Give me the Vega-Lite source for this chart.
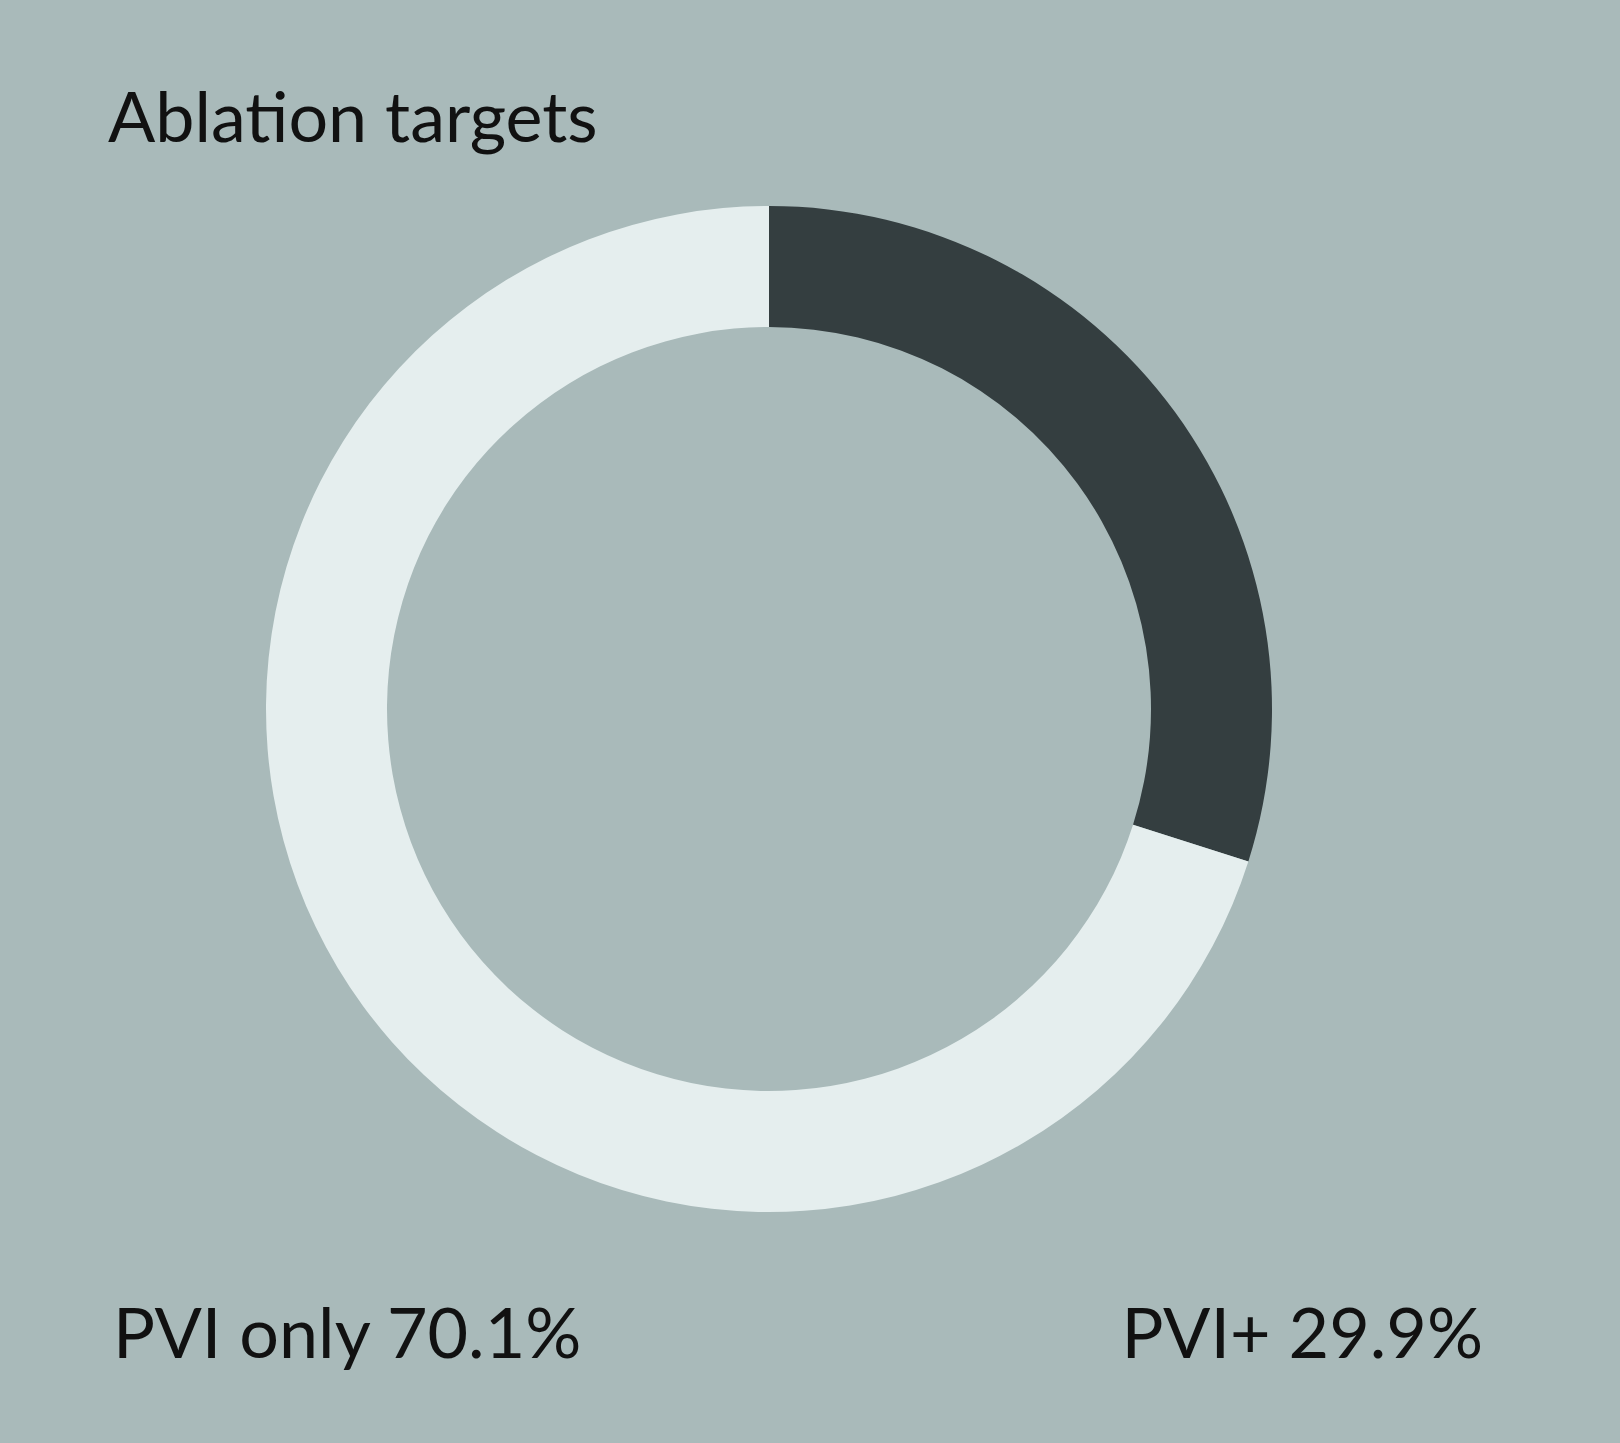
{
  "$schema": "https://vega.github.io/schema/vega-lite/v6.json",
  "background": "#a9baba",
  "autosize": {"type": "none"},
  "padding": {"left": 0, "top": 60, "right": 82, "bottom": 85},
  "width": 1538,
  "height": 1298,
  "title": {
    "text": "Ablation targets",
    "anchor": "start",
    "frame": "group",
    "orient": "top",
    "baseline": "alphabetic",
    "offset": 0,
    "dx": 108,
    "dy": 152,
    "font": "Lato",
    "fontSize": 70,
    "fontWeight": "normal",
    "color": "#111111"
  },
  "data": {
    "values": [
      {"segment": "PVI+", "share": 29.9, "label": "PVI+ 29.9%"},
      {"segment": "PVI only", "share": 70.1, "label": "PVI only 70.1%"}
    ]
  },
  "layer": [
    {
      "mark": {"type": "arc", "outerRadius": 503, "innerRadius": 382},
      "encoding": {
        "theta": {"field": "share", "type": "quantitative", "stack": true},
        "order": {"field": "share", "sort": "ascending"},
        "color": {
          "field": "segment",
          "type": "nominal",
          "scale": {"domain": ["PVI+", "PVI only"], "range": ["#343e40", "#e5eeee"]},
          "legend": null
        }
      }
    },
    {
      "transform": [{"filter": "datum.segment === 'PVI only'"}],
      "mark": {"type": "text", "align": "left", "baseline": "alphabetic", "font": "Lato", "fontSize": 70, "color": "#111111"},
      "encoding": {
        "x": {"field": "segment", "type": "nominal", "scale": {"type": "point", "domain": ["PVI only", "PVI+"], "padding": 0.0613, "align": 0.6726}, "axis": null},
        "y": {"value": "height"},
        "text": {"field": "label"}
      }
    },
    {
      "transform": [{"filter": "datum.segment === 'PVI+'"}],
      "mark": {"type": "text", "align": "right", "baseline": "alphabetic", "font": "Lato", "fontSize": 70, "color": "#111111"},
      "encoding": {
        "x": {"field": "segment", "type": "nominal", "scale": {"type": "point", "domain": ["PVI only", "PVI+"], "padding": 0.0613, "align": 0.6726}, "axis": null},
        "y": {"value": "height"},
        "text": {"field": "label"}
      }
    }
  ],
  "config": {"view": {"stroke": null}}
}
